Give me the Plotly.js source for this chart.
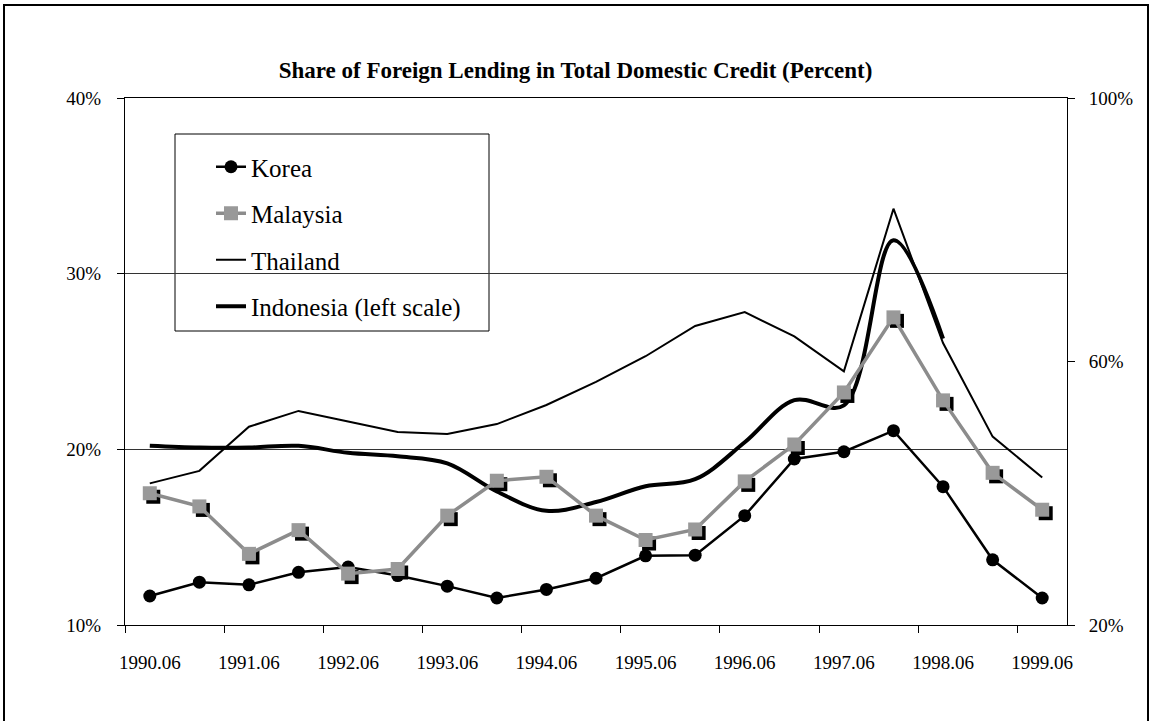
<!DOCTYPE html>
<html>
<head>
<meta charset="utf-8">
<script src="https://cdn.plot.ly/plotly-3.0.1.min.js"></script>
<style>
html, body { margin:0; padding:0; background:#fff; overflow:hidden; }
#chart { position:absolute; left:0; top:0; width:1151px; height:721px; }
#frame { position:absolute; left:3px; top:4px; width:1142px; height:800px; border:2px solid #000; pointer-events:none; }
</style>
</head>
<body>
<div id="chart"></div>
<div id="frame"></div>
<script>
// Semi-annual observations, June 1990 to June 1999
const categories = ["1990.06","1990.12","1991.06","1991.12","1992.06","1992.12","1993.06","1993.12",
  "1994.06","1994.12","1995.06","1995.12","1996.06","1996.12","1997.06","1997.12","1998.06","1998.12","1999.06"];

// Right scale (percent)
const korea    = [24.4,26.5,26.1,28.0,28.8,27.5,25.9,24.1,25.4,27.1,30.5,30.6,36.6,45.2,46.3,49.5,41.0,29.9,24.1];
const malaysia = [40.0,38.0,30.8,34.4,27.8,28.5,36.6,41.9,42.5,36.6,32.9,34.5,41.8,47.4,55.3,66.7,54.1,43.1,37.5];
const thailand = [41.5,43.4,50.1,52.5,50.9,49.3,49.0,50.5,53.4,56.9,60.8,65.4,67.5,63.8,58.5,83.2,62.8,48.6,42.4];
// Left scale (percent)
const indonesia = [20.2,20.1,20.1,20.2,19.8,19.6,19.2,17.6,16.5,17.0,17.9,18.3,20.4,22.8,22.5,31.9,26.3,null,null];

const seriesNames = ["Korea","Malaysia","Thailand","Indonesia (left scale)"];
const titleText = "Share of Foreign Lending in Total Domestic Credit (Percent)";

const FONT = "Liberation Serif, Times New Roman, serif";
const catW = 942 / 19;           // px per category (plot width / categories)
const shadowPx = 3.5;
const xShift = shadowPx / catW;
const yShift = shadowPx * 80 / 527;

const traces = [
  { name: seriesNames[3], x: categories, y: indonesia, xaxis:'x', yaxis:'y', type:'scatter', mode:'lines',
    line:{color:'#000', width:4, shape:'spline', smoothing:1}, legendgroup:'g4', legendrank:4, connectgaps:false },
  { name: seriesNames[0], x: categories, y: korea, xaxis:'x', yaxis:'y2', type:'scatter', mode:'lines+markers',
    line:{color:'#000', width:2.5}, marker:{symbol:'circle', size:13, color:'#000'}, legendgroup:'g1', legendrank:1 },
  { name: seriesNames[2], x: categories, y: thailand, xaxis:'x', yaxis:'y2', type:'scatter', mode:'lines',
    line:{color:'#000', width:2}, legendgroup:'g3', legendrank:3 },
  { name: seriesNames[1] + ' shadow', x: categories, y: malaysia, xaxis:'x2', yaxis:'y3', type:'scatter', mode:'markers',
    marker:{symbol:'square', size:14, color:'#000'}, showlegend:false, hoverinfo:'skip' },
  { name: seriesNames[1], x: categories, y: malaysia, xaxis:'x3', yaxis:'y4', type:'scatter', mode:'lines+markers',
    line:{color:'#8c8c8c', width:3.5}, marker:{symbol:'square', size:14, color:'#999999'}, legendgroup:'g2', legendrank:2 }
];

const tickFont = {family: FONT, size: 19, color:'#000'};
const hiddenCat = (shift) => ({type:'category', categoryorder:'array', categoryarray:categories,
  range:[-0.5 - shift, 18.5 - shift], visible:false, overlaying:'x', fixedrange:true});

const layout = {
  width:1151, height:721,
  paper_bgcolor:'#fff', plot_bgcolor:'rgba(0,0,0,0)',
  margin:{l:125, r:84, t:98, b:96},
  font:{family:FONT, color:'#000'},
  title:{text:'<b>'+titleText+'</b>', font:{family:FONT, size:23, color:'#000'},
    xref:'container', x:0.5, xanchor:'center', yref:'container', y:1-70/721, yanchor:'middle'},
  showlegend:true,
  hovermode:false,
  xaxis:{type:'category', categoryorder:'array', categoryarray:categories, range:[-0.5,18.5],
    tickmode:'linear', tick0:0, dtick:2, tickson:'boundaries', tickangle:0,
    ticks:'outside', ticklen:7, tickcolor:'#000', tickwidth:1,
    showline:true, mirror:true, linecolor:'#000', linewidth:1, showgrid:false, zeroline:false,
    tickfont:tickFont, ticklabelstandoff:20, fixedrange:true},
  yaxis:{range:[10,40], tickmode:'linear', tick0:10, dtick:10, ticksuffix:'%',
    ticks:'outside', ticklen:7, tickcolor:'#000', showline:true, linecolor:'#000', linewidth:1,
    showgrid:true, gridcolor:'#333', gridwidth:1, zeroline:false,
    tickfont:tickFont, ticklabelstandoff:12, fixedrange:true},
  yaxis2:{range:[20,100], tickmode:'linear', tick0:20, dtick:40, ticksuffix:'%', overlaying:'y', side:'right',
    ticks:'outside', ticklen:7, tickcolor:'#000', showline:true, linecolor:'#000', linewidth:1,
    showgrid:false, zeroline:false, tickfont:tickFont, ticklabelstandoff:10, fixedrange:true},
  xaxis2: hiddenCat(xShift),
  yaxis3:{range:[20 + yShift, 100 + yShift], overlaying:'y', visible:false, fixedrange:true},
  xaxis3: hiddenCat(0),
  yaxis4:{range:[20,100], overlaying:'y', visible:false, fixedrange:true},
  legend:{x:(211-125)/942, y:1-(144-98)/527, xanchor:'left', yanchor:'top', bgcolor:'rgba(0,0,0,0)',
    borderwidth:0, font:{family:FONT, size:25, color:'#000'}, tracegroupgap:11, traceorder:'grouped',
    itemclick:false, itemdoubleclick:false},
  shapes:[{type:'rect', xref:'paper', yref:'paper', layer:'between',
    x0:(175-125)/942, x1:(489-125)/942, y0:1-(331-98)/527, y1:1-(134-98)/527,
    line:{color:'#000', width:1}, fillcolor:'#fff'}]
};

Plotly.newPlot('chart', traces, layout, {displayModeBar:false, staticPlot:true});
</script>
</body>
</html>
